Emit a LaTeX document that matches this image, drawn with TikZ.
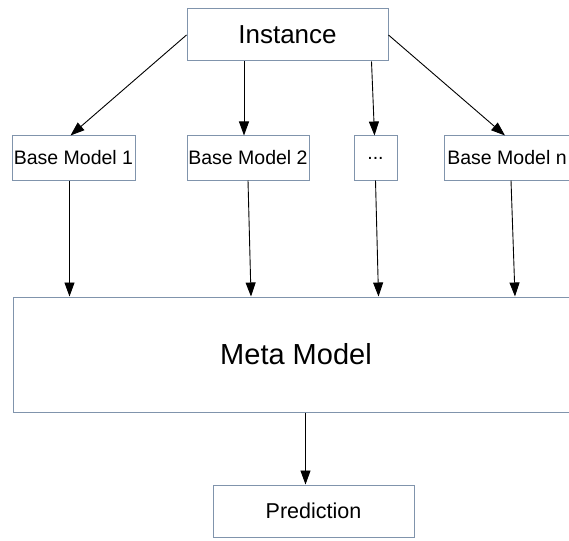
\documentclass[tikz,border=0pt]{standalone}
\usepackage{fontspec}
\setmainfont{Liberation Sans}
\usepackage{tikz}
\usetikzlibrary{positioning}
\usetikzlibrary{arrows.meta}
\definecolor{boxline}{RGB}{128,148,172}
\tikzset{
    mybox/.style = {rectangle, draw=boxline, line width=1pt, fill=white, inner sep=0pt, align=center, text=black},
    mytop/.style = {mybox, minimum width=201pt, minimum height=52pt, font=\fontsize{26}{30}\selectfont},
    mybase/.style = {mybox, minimum height=44pt, font=\fontsize{19.5}{23}\selectfont},
    mymeta/.style = {mybox, minimum width=566pt, minimum height=115pt, font=\fontsize{29}{34}\selectfont},
    mypred/.style = {mybox, minimum width=201pt, minimum height=52pt, font=\fontsize{21.5}{25}\selectfont},
    edgen/.style = {-{Triangle[length=14pt,width=10pt]}, line width=0.9pt, black},
}

\begin{document}
\begin{tikzpicture}[x=1pt,y=-1pt]
\useasboundingbox (0,0) rectangle (569,540);
\clip (0,0) rectangle (569,540);

\node[mytop] at (287.5, 35) (inst) {Instance};
\node[mybase, minimum width=123pt] at ( 73.5, 158) (bm1) {Base Model 1};
\node[mybase, minimum width=122pt] at (248.0, 158) (bm2) {Base Model 2};
\node[mybase, minimum width=43pt]  at (375.5, 158) (dots) {...};
\node[mybase, minimum width=126pt] at (507.0, 158) (bmn) {Base Model n};
\node[mymeta] at (296, 354.5) (meta) {Meta Model};
\node[mypred] at (313.5, 511) (pred) {Prediction};

% instance -> base models
\draw[edgen] (inst.west) -- ([xshift=-3pt]bm1.north);
\draw[edgen] ([xshift=-4pt]inst.south -| bm2.north) -- ([xshift=-4pt]bm2.north);
\draw[edgen] ([xshift=-4pt]inst.south -| dots.north) -- ([xshift=-1pt]dots.north);
\draw[edgen] (inst.east) -- ([xshift=-2pt]bmn.north);

% base models -> meta
\draw[edgen] ([xshift=-4pt]bm1.south) -- ([xshift=-4pt]bm1.south |- meta.north);
\draw[edgen] (bm2.south) -- ([xshift=3pt]bm2.south |- meta.north);
\draw[edgen] (dots.south) -- ([xshift=3pt]dots.south |- meta.north);
\draw[edgen] ([xshift=4pt]bmn.south) -- ([xshift=8pt]bmn.south |- meta.north);

% meta -> prediction
\draw[edgen] ([xshift=-8pt]meta.south -| pred.north) -- ([xshift=-8pt]pred.north);

\end{tikzpicture}
\end{document}
